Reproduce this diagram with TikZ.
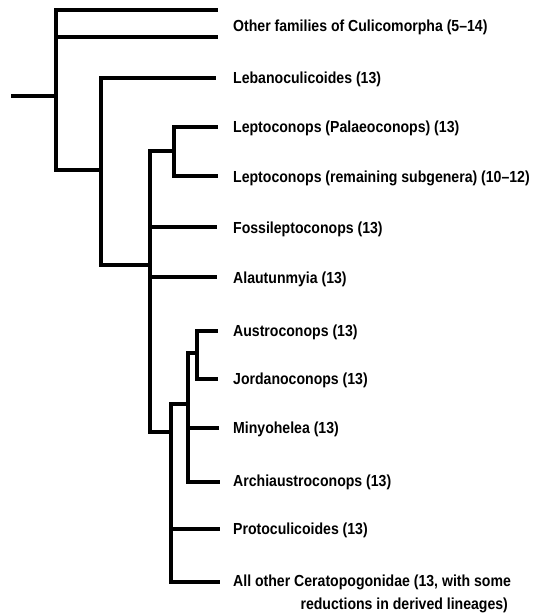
\documentclass[tikz,border=0pt]{standalone}
\usepackage{fontspec}
\setmainfont{Liberation Sans}[FakeStretch=0.88]
\begin{document}
\begin{tikzpicture}[x=1pt,y=-1pt,
  br/.style={line width=3.8pt, line cap=rect, line join=miter},
  lab/.style={anchor=base west, inner sep=0pt, font=\bfseries\fontsize{16}{23}\selectfont}]
\useasboundingbox (0,0) rectangle (541,614);
% tips
\coordinate (t1) at (216,10);
\coordinate (t2) at (216,37);
\coordinate (t3) at (214,78);
\coordinate (t4) at (216,127);
\coordinate (t5) at (216,176);
\coordinate (t6) at (215,227);
\coordinate (t7) at (215,277);
\coordinate (t8) at (216,331);
\coordinate (t9) at (216,379);
\coordinate (t10) at (217,428);
\coordinate (t11) at (218,482);
\coordinate (t12) at (218,529);
\coordinate (t13) at (218,582);
% internal junctions
\coordinate (r) at (13,96);
\coordinate (a) at (56,96);
\coordinate (a2) at (56,37);
\coordinate (ab) at (56,170);
\coordinate (b) at (101,170);
\coordinate (bb) at (101,265);
\coordinate (c) at (150,265);
\coordinate (cd) at (174,151);
\coordinate (cb) at (150,432);
\coordinate (c6) at (150,227);
\coordinate (c7) at (150,277);
\coordinate (e) at (171,432);
\coordinate (ef) at (188,404);
\coordinate (eb) at (171,582);
\coordinate (e12) at (171,529);
\coordinate (fg) at (197,353);
\coordinate (fb) at (188,482);
\coordinate (f10) at (188,428);
\coordinate (gb) at (197,379);
\coordinate (db) at (174,176);
% branches
\draw[br] (r) -- (a);
\draw[br] (t1) -| (ab) -- (b);
\draw[br] (a2) -- (t2);
\draw[br] (t3) -| (bb) -- (c);
\draw[br] (t4) -| (db) -- (t5);
\draw[br] (cd) -| (cb) -- (e);
\draw[br] (c6) -- (t6);
\draw[br] (c7) -- (t7);
\draw[br] (t8) -| (gb) -- (t9);
\draw[br] (fg) -| (fb) -- (t11);
\draw[br] (f10) -- (t10);
\draw[br] (ef) -| (eb) -- (t13);
\draw[br] (e12) -- (t12);
% labels
\node[lab] (l1) at (233,31.5) {Other families of Culicomorpha (5–14)};
\node[lab] (l3) at (233,83.5) {Lebanoculicoides (13)};
\node[lab] (l4) at (233,132.5) {Leptoconops (Palaeoconops) (13)};
\node[lab] (l5) at (233,182.5) {Leptoconops (remaining subgenera) (10–12)};
\node[lab] (l6) at (233,233) {Fossileptoconops (13)};
\node[lab] (l7) at (233,283) {Alautunmyia (13)};
\node[lab] (l8) at (233,336) {Austroconops (13)};
\node[lab] (l9) at (233,384.5) {Jordanoconops (13)};
\node[lab] (l10) at (233,433.5) {Minyohelea (13)};
\node[lab] (l11) at (233,486) {Archiaustroconops (13)};
\node[lab] (l12) at (233,534) {Protoculicoides (13)};
\node[lab] (l13) at (233,586) {All other Ceratopogonidae (13, with some};
\node[lab, anchor=base east] (l13b) at ([shift={(-3,23)}]l13.base east) {reductions in derived lineages)};
\end{tikzpicture}
\end{document}
